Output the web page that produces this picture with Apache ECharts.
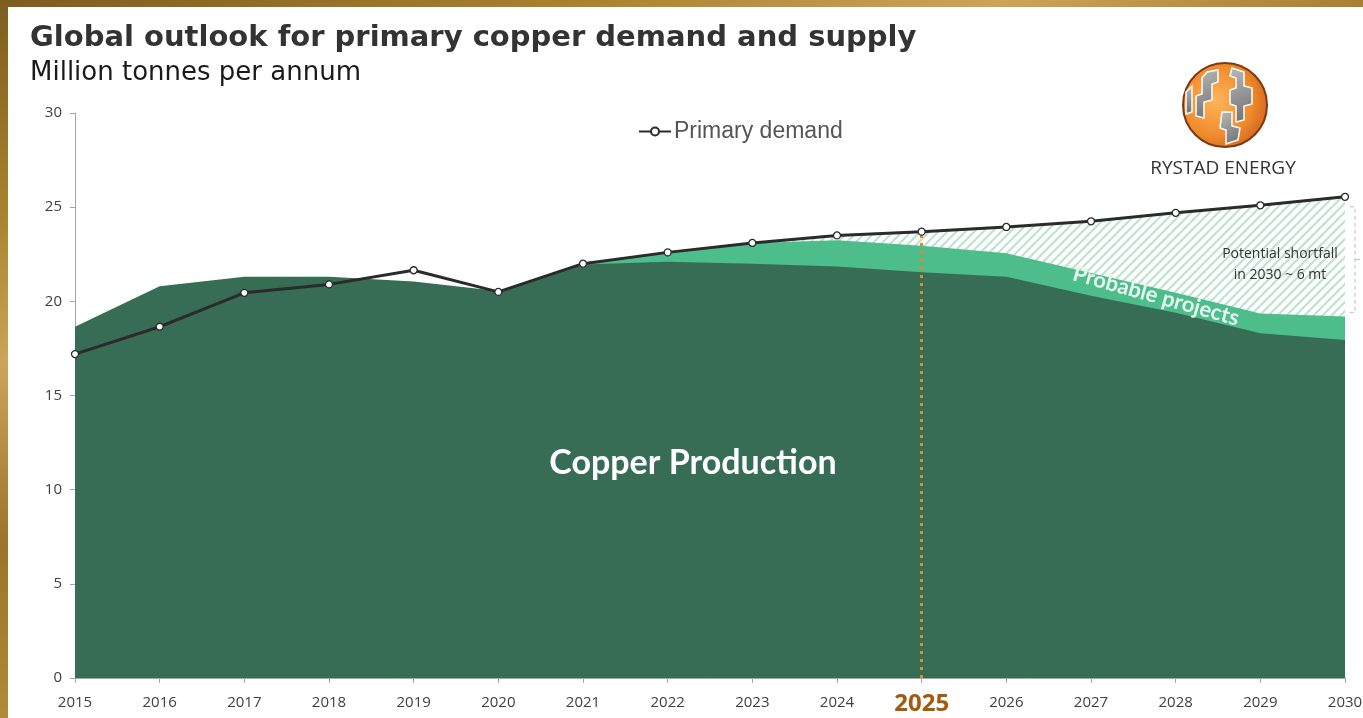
<!DOCTYPE html>
<html>
<head>
<meta charset="utf-8">
<script src="https://cdn.jsdelivr.net/npm/echarts@6/dist/echarts.min.js"></script>
<style>
  html, body { margin: 0; padding: 0; width: 1363px; height: 718px; overflow: hidden; }
  body { background: linear-gradient(160deg, #7d5c1f 0%, #a9842f 18%, #caa55a 30%, #9a7428 45%, #b58f3e 62%, #8c6a24 80%, #a27c30 100%); }
  #panel { position: absolute; left: 8px; top: 7px; right: 0; bottom: 0; background: #ffffff; }
  #chart { position: absolute; left: 0; top: 0; width: 1363px; height: 718px; }
</style>
</head>
<body>
<div id="panel"></div>
<div id="chart"></div>
<script>
// ---- Data (million tonnes per annum) ----
const years = ['2015','2016','2017','2018','2019','2020','2021','2022','2023','2024','2025','2026','2027','2028','2029','2030'];
const demand = [17.2, 18.65, 20.45, 20.9, 21.65, 20.5, 22.0, 22.6, 23.1, 23.5, 23.7, 23.95, 24.25, 24.7, 25.1, 25.55];
const production = [18.65, 20.8, 21.3, 21.3, 21.05, 20.55, 21.95, 22.1, 22.0, 21.85, 21.55, 21.3, 20.3, 19.4, 18.3, 17.95];
// production + probable projects (total supply)
const probableTotal = ['-', '-', '-', '-', '-', '-', 21.95, 22.6, 23.1, 23.25, 22.95, 22.55, 21.5, 20.45, 19.35, 19.2];
const shortfallFrom = '2023';
const yTicks = [0, 5, 10, 15, 20, 25, 30];
const highlightYear = '2025';

// hatch pattern
function makeHatch() {
  const s = 9;
  const c = document.createElement('canvas');
  c.width = s; c.height = s;
  const ctx = c.getContext('2d');
  ctx.fillStyle = '#ffffff';
  ctx.fillRect(0, 0, s, s);
  ctx.strokeStyle = '#bfe2d1';
  ctx.lineWidth = 2.2;
  ctx.beginPath();
  ctx.moveTo(-2, s + 2); ctx.lineTo(s + 2, -2);
  ctx.moveTo(-2, 2); ctx.lineTo(2, -2);
  ctx.moveTo(s - 2, s + 2); ctx.lineTo(s + 2, s - 2);
  ctx.stroke();
  return c;
}

const shortfallData = demand.map((v, i) => (years[i] >= shortfallFrom ? v : '-'));
const hlIdx = years.indexOf(highlightYear);

const chart = echarts.init(document.getElementById('chart'), null, { renderer: 'canvas' });

const option = {
  animation: false,
  backgroundColor: 'transparent',
  grid: { left: 75, right: 18, top: 113, bottom: 40, containLabel: false, outerBoundsMode: 'none' },
  legend: {
    data: ['Primary demand'],
    left: 633, top: 115,
    itemWidth: 32, itemHeight: 10, itemGap: 4,
    textStyle: { fontSize: 23, color: '#555555', fontFamily: 'Liberation Sans', padding: [0, 0, 0, -2] },
    selectedMode: false
  },
  xAxis: {
    type: 'category',
    data: years,
    boundaryGap: false,
    axisLine: { lineStyle: { color: '#a6a6a6', width: 1 } },
    axisTick: { show: true, length: 5, lineStyle: { color: '#a6a6a6' } },
    axisLabel: {
      interval: 0, margin: 17, fontSize: 15, color: '#404040', fontFamily: 'Open Sans',
      showMinLabel: true, showMaxLabel: true,
      formatter: function (v) { return v === highlightYear ? '{hl|' + v + '}' : v; },
      rich: { hl: { fontSize: 24, lineHeight: 18, fontWeight: 'bold', color: '#a35a0c', fontFamily: 'Open Sans' } }
    },
    splitLine: { show: false }
  },
  yAxis: {
    type: 'value',
    min: yTicks[0], max: yTicks[yTicks.length - 1], interval: 5,
    axisLine: { show: true, lineStyle: { color: '#a6a6a6', width: 1 } },
    axisTick: { show: true, length: 5, lineStyle: { color: '#a6a6a6' } },
    axisLabel: { margin: 13, fontSize: 15, color: '#404040', fontFamily: 'Open Sans' },
    splitLine: { show: false }
  },
  series: [
    {
      name: 'Potential shortfall', type: 'line', data: shortfallData,
      symbol: 'none', lineStyle: { width: 0 }, silent: true,
      areaStyle: { color: { image: makeHatch(), repeat: 'repeat' }, opacity: 1 },
      z: 1
    },
    {
      name: 'Probable projects', type: 'line', data: probableTotal,
      symbol: 'none', lineStyle: { width: 0 }, silent: true,
      areaStyle: { color: '#4dbd8b', opacity: 1 },
      z: 2
    },
    {
      name: 'Copper production', type: 'line', data: production,
      symbol: 'none', lineStyle: { width: 0 }, silent: true,
      areaStyle: { color: '#366d54', opacity: 1 },
      z: 3
    },
    {
      name: 'Primary demand', type: 'line', data: demand,
      symbol: 'circle', symbolSize: 7, showAllSymbol: true,
      lineStyle: { color: '#2b2b2b', width: 3 },
      itemStyle: { color: '#ffffff', borderColor: '#2b2b2b', borderWidth: 1.3 },
      z: 6,
      markLine: {
        silent: true, symbol: ['none', 'none'],
        lineStyle: { color: '#e8862a', width: 3, type: [3, 5], opacity: 1 },
        label: { show: false },
        emphasis: { disabled: true },
        data: [[{ coord: [highlightYear, 0] }, { coord: [highlightYear, demand[hlIdx]] }]],
        z: 4
      }
    }
  ]
};
chart.setOption(option);

// annotations
const pTop = chart.convertToPixel({ gridIndex: 0 }, ['2030', demand[demand.length - 1]]);
const pBot = chart.convertToPixel({ gridIndex: 0 }, ['2030', probableTotal[probableTotal.length - 1]]);
const bx = pTop[0] + 10;
const by1 = pTop[1] + 10, by2 = pBot[1] - 4, bm = (by1 + by2) / 2;

function logo() {
  const cx = 1225, cy = 105, r = 42;
  const els = [];
  els.push({ type: 'circle', shape: { cx: cx, cy: cy, r: r }, style: {
    fill: { type: 'radial', x: 0.4, y: 0.45, r: 0.7, colorStops: [{ offset: 0, color: '#ffb45a' }, { offset: 0.6, color: '#f08a2c' }, { offset: 1, color: '#c9581a' }] },
    stroke: '#7a3b14', lineWidth: 2 } });
  const gray = { type: 'linear', x: 0, y: 0, x2: 1, y2: 1, colorStops: [{ offset: 0, color: '#b9b9b9' }, { offset: 1, color: '#6e6e6e' }] };
  const polys = [
    [[1207, 72], [1218, 70], [1218, 82], [1212, 84], [1212, 100], [1204, 102], [1204, 118], [1196, 116], [1196, 96], [1202, 94], [1202, 78]],
    [[1232, 68], [1244, 72], [1244, 86], [1252, 88], [1252, 104], [1244, 106], [1244, 120], [1236, 122], [1236, 106], [1230, 104], [1230, 90], [1236, 88], [1236, 78], [1230, 76]],
    [[1222, 112], [1232, 112], [1232, 126], [1240, 128], [1238, 140], [1226, 144], [1226, 130], [1220, 128]],
    [[1186, 92], [1192, 86], [1192, 112], [1186, 114]]
  ];
  polys.forEach(p => els.push({ type: 'polygon', shape: { points: p }, style: { fill: gray, stroke: '#ffffff', lineWidth: 1.5 } }));
  els.push({ type: 'text', style: { text: 'RYSTAD ENERGY', x: 1223, y: 169, align: 'center', verticalAlign: 'middle', fontSize: 19, fontFamily: 'Open Sans', fill: '#333333' } });
  return els;
}

chart.setOption({
  graphic: [
    { type: 'text', left: 30, top: 24, style: { text: 'Global outlook for primary copper demand and supply', fontSize: 29, fontWeight: 'bold', fontFamily: 'DejaVu Sans', fill: '#333333' } },
    { type: 'text', left: 30, top: 60, style: { text: 'Million tonnes per annum', fontSize: 26, fontFamily: 'DejaVu Sans', fill: '#1a1a1a' } },
    { type: 'text', x: 693, y: 463, style: { text: 'Copper Production', align: 'center', verticalAlign: 'middle', fontSize: 34, fontWeight: 'bold', fontFamily: 'Lato', fill: '#ffffff' }, z: 10 },
    { type: 'text', x: 1156, y: 296, rotation: -0.27, style: { text: 'Probable projects', align: 'center', verticalAlign: 'middle', fontSize: 22, fontWeight: 'bold', fontFamily: 'Lato', fill: '#e6f6ee' }, z: 10 },
    { type: 'text', x: 1280, y: 254, style: { text: 'Potential shortfall', align: 'center', verticalAlign: 'middle', fontSize: 14, fontFamily: 'Open Sans', fill: '#333333' }, z: 10 },
    { type: 'text', x: 1280, y: 275, style: { text: 'in 2030 ~ 6 mt', align: 'center', verticalAlign: 'middle', fontSize: 14, fontFamily: 'Open Sans', fill: '#333333' }, z: 10 },
    { type: 'polyline', shape: { points: [[bx - 5, by1], [bx, by1], [bx, by2], [bx - 5, by2]] }, style: { stroke: '#bdbdbd', lineWidth: 1, lineDash: [4, 3], fill: null }, z: 10 },
    { type: 'line', shape: { x1: bx, y1: bm, x2: bx + 5, y2: bm }, style: { stroke: '#bdbdbd', lineWidth: 1 }, z: 10 }
  ].concat(logo())
});
</script>
</body>
</html>
